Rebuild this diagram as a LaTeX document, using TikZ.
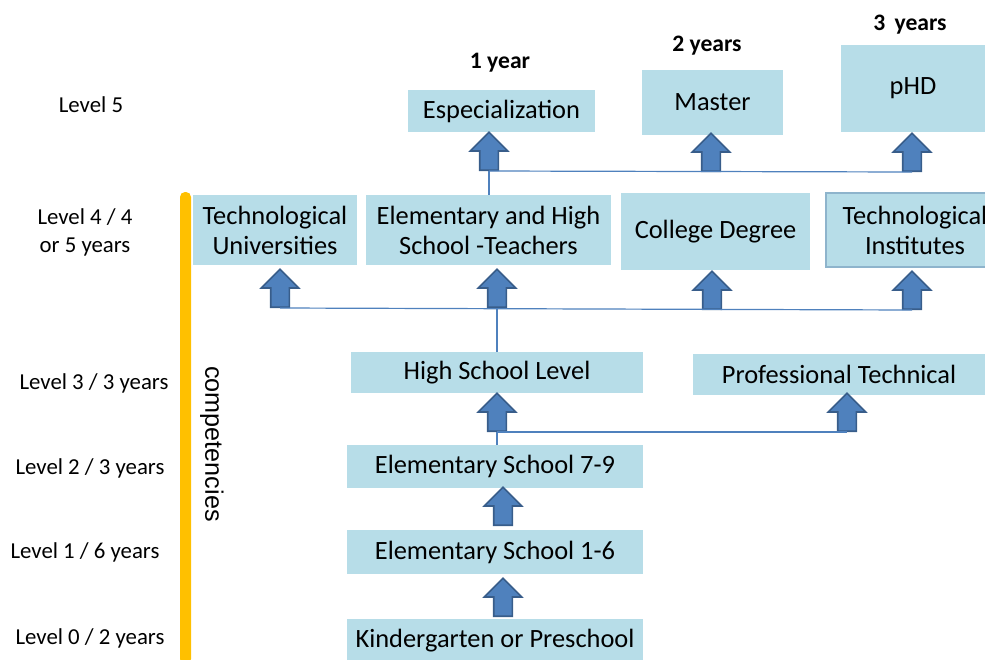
\documentclass[tikz,border=0pt]{standalone}
\usepackage{fontspec}
\setmainfont{Carlito}
\newfontfamily\arialfont{Liberation Sans}
\usepackage{xcolor}
\usepackage{tikz}
\usetikzlibrary{arrows, positioning, shapes, shapes.arrows}

\definecolor{boxblue}{HTML}{B7DDE8}
\definecolor{boxedge}{HTML}{8EB4CC}
\definecolor{arrowblue}{HTML}{4F81BD}
\definecolor{arrowedge}{HTML}{385D8A}
\definecolor{barorange}{HTML}{FFC000}

\tikzset{
  box/.style={fill=boxblue, inner sep=0pt, align=center, font=\fontsize{13.2}{15}\selectfont},
  levellabel/.style={align=center, font=\fontsize{11.4}{14}\selectfont},
  yearlabel/.style={font=\fontsize{11.8}{14}\selectfont\bfseries},
  blockarrow/.style={single arrow, shape border rotate=90, draw=arrowedge, fill=arrowblue,
    line width=0.8pt, inner sep=4.25pt, minimum width=18pt, minimum height=19pt,
    single arrow head extend=4.75pt, anchor=tail},
  link/.style={draw=arrowblue, line width=0.6pt}
}

\begin{document}
\begin{tikzpicture}[x=0.5pt, y=-0.5pt]
    \useasboundingbox (0,0) rectangle (985,659);

    % Niveluri
    \node[levellabel] (l5) at (91,105) {Level 5};
    \node[levellabel] (l4) at (85,232) {Level 4 / 4\\or 5 years};
    \node[levellabel] (l3) at (94,383) {Level 3 / 3 years};
    \node[levellabel] (l2) at (90,468) {Level 2 / 3 years};
    \node[levellabel] (l1) at (85,552) {Level 1 / 6 years};
    \node[levellabel] (l0) at (90,638) {Level 0 / 2 years};

    % Bara portocalie
    \fill[barorange, rounded corners=2.5pt] (180,192) rectangle (191,664);
    \node[rotate=-90, font=\arialfont\fontsize{12.6}{14}\selectfont] (comp) at (212,444) {competencies};

    % Nivel 5
    \node[box, minimum width=93.5pt, minimum height=21pt] (esp) at (501.5,111) {Especialization};
    \node[box, minimum width=70.5pt, minimum height=32.5pt] (mas) at (712.5,102.5) {Master};
    \node[box, minimum width=72pt, minimum height=43.5pt] (phd) at (913,88.5) {pHD};
    \node[yearlabel] (y1) at (500,63) {1 year};
    \node[yearlabel] (y2) at (707,46) {2 years};
    \node[yearlabel] (y3) at (910,25) {3\, years};

    % Nivel 4
    \node[box, minimum width=82pt, minimum height=35pt] (tuni) at (275,230) {Technological\\Universities};
    \node[box, minimum width=122.5pt, minimum height=35pt] (teach) at (488.5,230) {Elementary and High\\School -Teachers};
    \node[box, minimum width=94.5pt, minimum height=38.5pt] (coll) at (715.5,231.5) {College Degree};
    \node[box, draw=boxedge, line width=0.6pt, minimum width=89pt, minimum height=37pt] (tinst) at (915,230) {Technological\\Institutes};

    % Nivel 3
    \node[box, minimum width=146pt, minimum height=20.5pt] (hs) at (497,372.5) {High School Level};
    \node[box, minimum width=146pt, minimum height=20.5pt] (prof) at (839,374.5) {Professional Technical};

    % Nivel 2, 1, 0
    \node[box, minimum width=148pt, minimum height=21.5pt] (e79) at (495,466.5) {Elementary School 7-9};
    \node[box, minimum width=148pt, minimum height=22pt] (e16) at (495,552) {Elementary School 1-6};
    \node[box, minimum width=148pt, minimum height=22pt] (kin) at (495,641) {Kindergarten or Preschool};

    % Sageti
    \node[blockarrow] (a1) at (489,171) {};
    \node[blockarrow] (a2) at (711,172) {};
    \node[blockarrow] (a3) at (912,172) {};
    \node[blockarrow] (a4) at (280,308) {};
    \node[blockarrow] (a5) at (497,308) {};
    \node[blockarrow] (a6) at (712,310) {};
    \node[blockarrow] (a7) at (912,310) {};
    \node[blockarrow] (a8) at (497,432) {};
    \node[blockarrow] (a9) at (847,432) {};
    \node[blockarrow] (a10) at (503,526) {};
    \node[blockarrow] (a11) at (503,617) {};

    % Legaturi
    \draw[link] (a1.tail) -- (a3.tail);
    \draw[link] (a1.tail) -- (teach.north -| a1.tail);
    \draw[link] (a4.tail) -- (a7.tail);
    \draw[link] (a5.tail) -- (hs.north -| a5.tail);
    \draw[link] (a8.tail) -- (a9.tail);
    \draw[link] (a8.tail) -- (e79.north -| a8.tail);
\end{tikzpicture}
\end{document}
